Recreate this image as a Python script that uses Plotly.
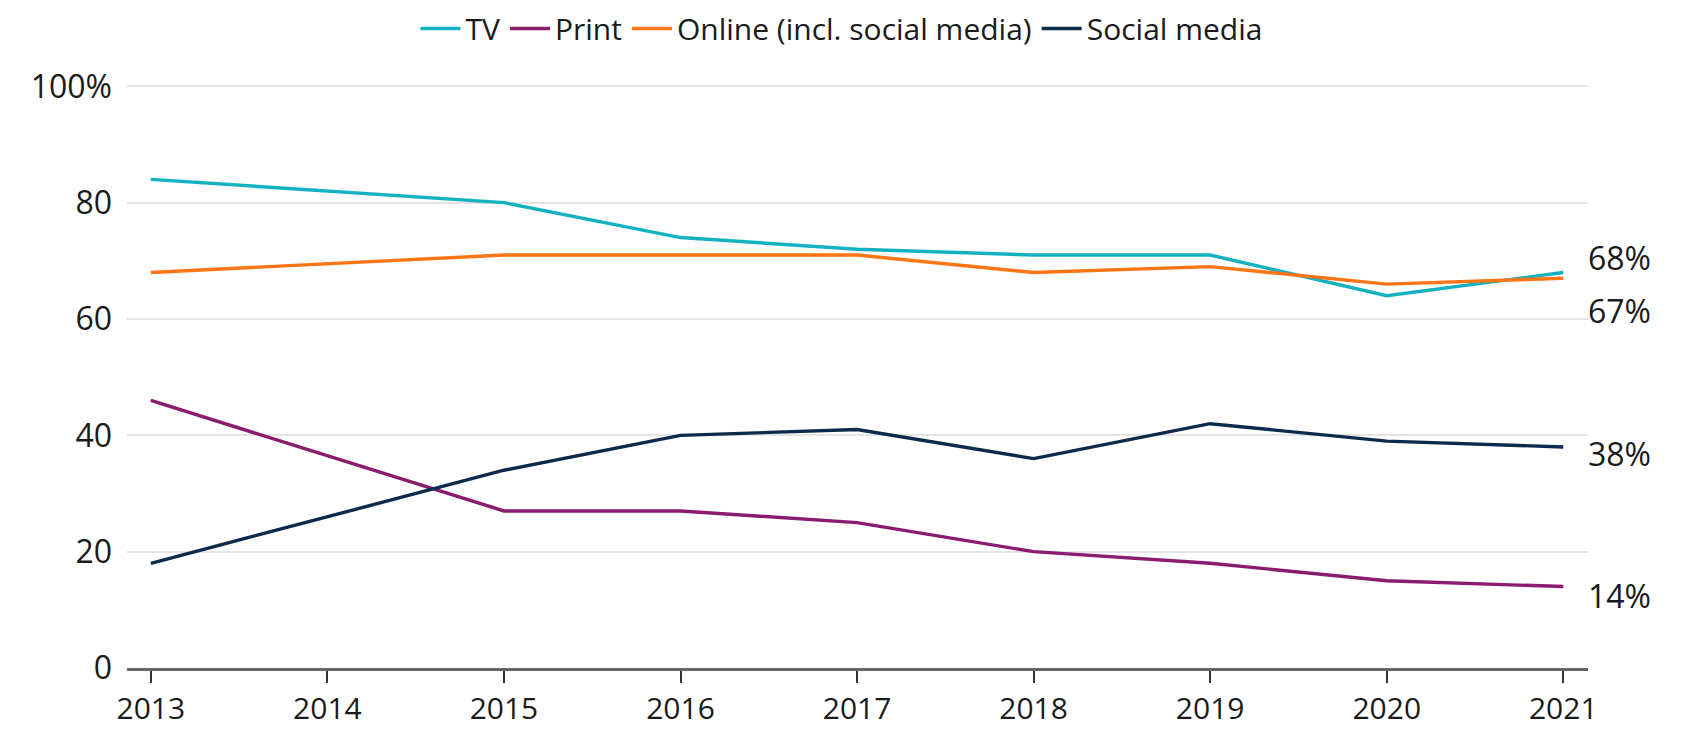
import plotly.graph_objects as go

years = [2013, 2015, 2016, 2017, 2018, 2019, 2020, 2021]
tv = [84, 80, 74, 72, 71, 71, 64, 68]
print_ = [46, 27, 27, 25, 20, 18, 15, 14]
online = [68, 71, 71, 71, 68, 69, 66, 67]
social = [18, 34, 40, 41, 36, 42, 39, 38]

series_names = ["TV", "Print", "Online (incl. social media)", "Social media"]
series_values = [tv, print_, online, social]
colors = ["#14b1c1", "#8a1b6e", "#ff7414", "#0c2a4c"]

end_labels = ["68%", "14%", "67%", "38%"]
end_label_yshift = [15, -9, -32, -7]

xtick_vals = list(range(2013, 2022))
ytick_vals = [0, 20, 40, 60, 80, 100]
ytick_text = ["0", "20", "40", "60", "80", "100%"]

FONT = "Open Sans"
TXT = "#1a1a1a"

fig = go.Figure()
for name, vals, col in zip(series_names, series_values, colors):
    fig.add_trace(go.Scatter(x=years, y=vals, name=name, mode="lines",
                             line=dict(color=col, width=3.4)))

for vals, lab, ys in zip(series_values, end_labels, end_label_yshift):
    fig.add_annotation(x=years[-1], y=vals[-1], text=lab, showarrow=False,
                       xanchor="left", yanchor="middle", xshift=23, yshift=ys,
                       font=dict(family=FONT, size=32, color=TXT))

fig.update_layout(
    width=1691, height=723,
    margin=dict(l=119, r=111, t=76, b=63, autoexpand=False),
    paper_bgcolor="white", plot_bgcolor="white",
    font=dict(family=FONT, size=31, color=TXT),
    showlegend=True,
    legend=dict(orientation="h", xref="paper", yref="paper",
                x=0.489, xanchor="center", y=1.095, yanchor="middle",
                font=dict(family=FONT, size=30, color=TXT),
                itemwidth=40, tracegroupgap=0, bgcolor="rgba(0,0,0,0)"),
    xaxis=dict(range=[2012.865, 2021.14], tickmode="array", tickvals=xtick_vals,
               showgrid=False, zeroline=False, showline=True, linecolor="#666666",
               linewidth=2.5, ticks="outside", ticklen=12, tickwidth=1.5,
               tickcolor="#333333", ticklabelstandoff=0, automargin=False,
               tickfont=dict(family=FONT, size=30, color=TXT)),
    yaxis=dict(range=[0, 100.4], tickmode="array", tickvals=ytick_vals, ticktext=ytick_text,
               showgrid=True, gridcolor="#e4e4e4", gridwidth=2, zeroline=False,
               showline=False, ticks="", ticklabelstandoff=14, automargin=False,
               tickfont=dict(family=FONT, size=32, color=TXT)),
)

fig.write_html("out.html")
